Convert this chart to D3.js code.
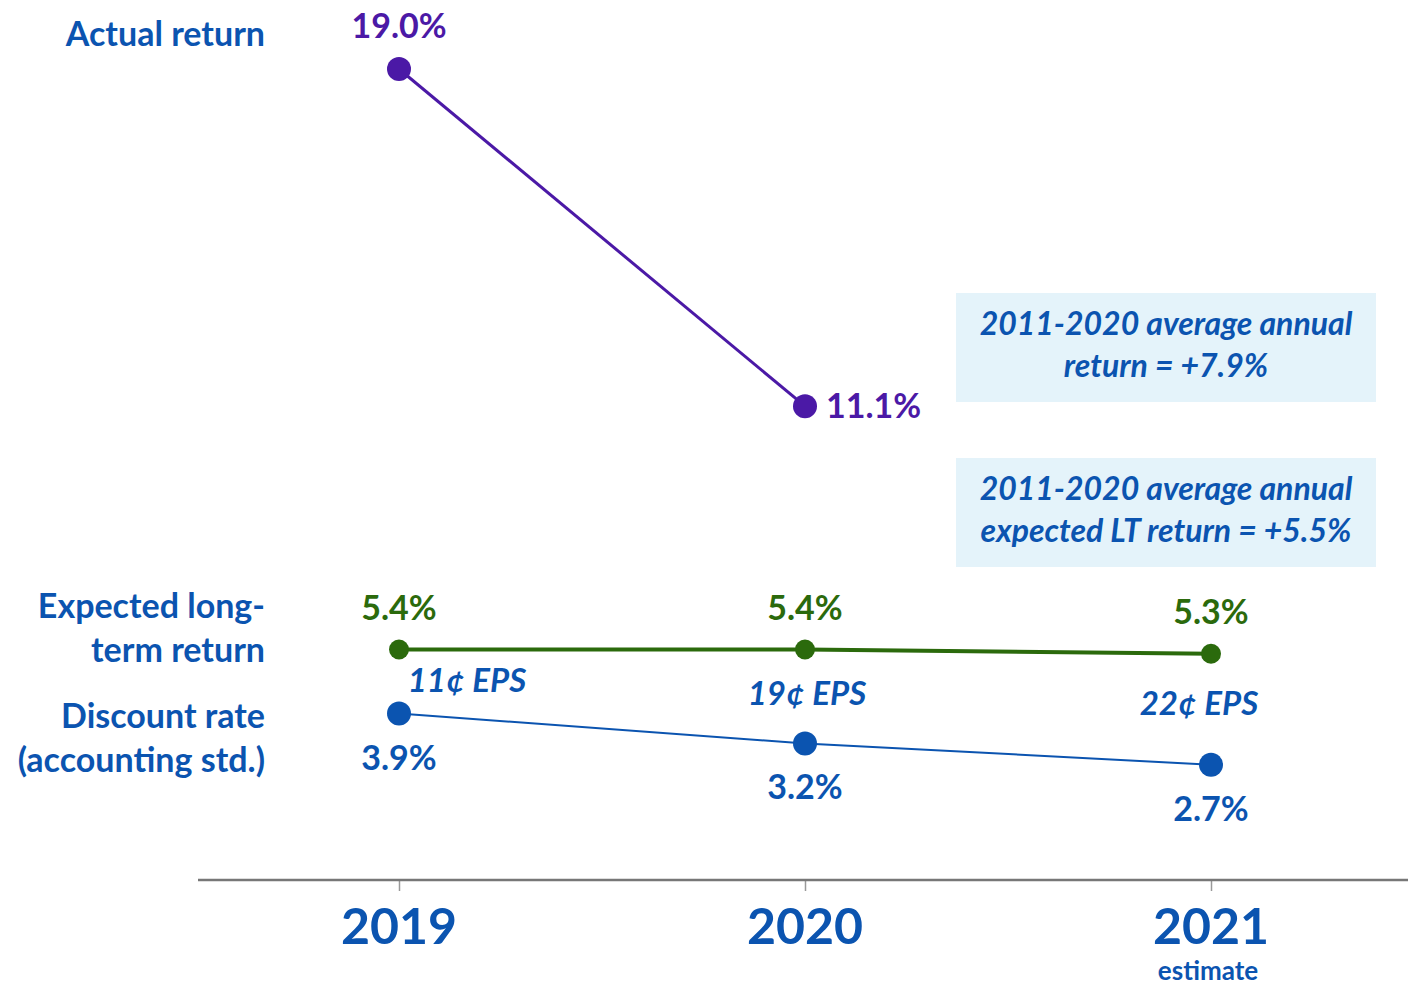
<!DOCTYPE html>
<html lang="en">
<head>
<meta charset="utf-8">
<title>Returns</title>
<script src="https://d3js.org/d3.v7.min.js"></script>
<style>
  body { margin: 0; background: #fff; }
  text { font-family: Lato, "Open Sans", sans-serif; font-weight: 700; }
  .ital { font-style: italic; }
</style>
</head>
<body>
<script>
var years = ['2019', '2020', '2021'];
var actualReturn = [19.0, 11.1];
var expectedReturn = [5.4, 5.4, 5.3];
var discountRate = [3.9, 3.2, 2.7];
var epsLabels = ['11¢ EPS', '19¢ EPS', '22¢ EPS'];
var boxTexts = [
  ['2011-2020 average annual', 'return = +7.9%'],
  ['2011-2020 average annual', 'expected LT return = +5.5%']
];

var W = 1408, H = 986;
var purple = '#4b19a6', green = '#2b6a0c', blue = '#0b54b0';

var svg = d3.select('body').append('svg')
    .attr('width', W)
    .attr('height', H);

var x = d3.scalePoint().domain(years).range([399, 1211]);
var y = d3.scaleLinear().domain([0, 19]).range([880, 69]);

// axis
var xAxis = d3.axisBottom(x).tickSize(11).tickFormat('');
var ax = svg.append('g')
    .attr('transform', 'translate(0,880)')
    .call(xAxis);
ax.select('.domain').remove();
ax.selectAll('.tick line').attr('stroke', '#999').attr('stroke-width', 1.5);
svg.append('line')
    .attr('x1', 198).attr('x2', W)
    .attr('y1', 880).attr('y2', 880)
    .attr('stroke', '#777').attr('stroke-width', 2.5);

svg.selectAll('.year')
    .data(years)
  .enter().append('text')
    .attr('class', 'year')
    .attr('x', function(d){ return x(d); })
    .attr('y', 944)
    .attr('text-anchor', 'middle')
    .attr('font-size', 50)
    .attr('fill', blue)
    .text(function(d){ return d; });
svg.append('text')
    .attr('x', x('2021') - 3)
    .attr('y', 980)
    .attr('text-anchor', 'middle')
    .attr('font-size', 26)
    .attr('fill', blue)
    .text('estimate');

// series
function drawSeries(vals, color, lw, r) {
  var pts = vals.map(function(v, i){ return [x(years[i]), y(v)]; });
  svg.append('path')
      .attr('d', d3.line()(pts))
      .attr('fill', 'none')
      .attr('stroke', color)
      .attr('stroke-width', lw);
  svg.selectAll(null)
      .data(pts)
    .enter().append('circle')
      .attr('cx', function(d){ return d[0]; })
      .attr('cy', function(d){ return d[1]; })
      .attr('r', r)
      .attr('fill', color);
}
drawSeries(actualReturn, purple, 3, 12);
drawSeries(expectedReturn, green, 4, 10);
drawSeries(discountRate, blue, 2, 12);

function fmt(v){ return v.toFixed(1) + '%'; }

// value labels
svg.append('text')
    .attr('x', x('2019')).attr('y', y(actualReturn[0]) - 31)
    .attr('text-anchor', 'middle').attr('font-size', 34).attr('fill', purple)
    .text(fmt(actualReturn[0]));
svg.append('text')
    .attr('x', x('2020') + 21).attr('y', y(actualReturn[1]) + 12)
    .attr('text-anchor', 'start').attr('font-size', 34).attr('fill', purple)
    .text(fmt(actualReturn[1]));

svg.selectAll('.exp')
    .data(expectedReturn)
  .enter().append('text')
    .attr('class', 'exp')
    .attr('x', function(d, i){ return x(years[i]); })
    .attr('y', function(d){ return y(d) - 30; })
    .attr('text-anchor', 'middle').attr('font-size', 34).attr('fill', green)
    .text(fmt);

svg.selectAll('.disc')
    .data(discountRate)
  .enter().append('text')
    .attr('class', 'disc')
    .attr('x', function(d, i){ return x(years[i]); })
    .attr('y', function(d){ return y(d) + 56; })
    .attr('text-anchor', 'middle').attr('font-size', 34).attr('fill', blue)
    .text(fmt);

var epsDx = [68, 2, -12];
var epsDy = [42, 55, 61];
svg.selectAll('.eps')
    .data(epsLabels)
  .enter().append('text')
    .attr('class', 'eps ital')
    .attr('x', function(d, i){ return x(years[i]) + epsDx[i]; })
    .attr('y', function(d, i){ return y(expectedReturn[i]) + epsDy[i]; })
    .attr('text-anchor', 'middle').attr('font-size', 33).attr('fill', blue)
    .text(function(d){ return d; });

// left labels
var leftLabels = [
  {t: 'Actual return', y: 46},
  {t: 'Expected long-', y: 618},
  {t: 'term return', y: 662},
  {t: 'Discount rate', y: 728},
  {t: '(accounting std.)', y: 772}
];
svg.selectAll('.lab')
    .data(leftLabels)
  .enter().append('text')
    .attr('class', 'lab')
    .attr('x', 265).attr('y', function(d){ return d.y; })
    .attr('text-anchor', 'end').attr('font-size', 34).attr('fill', blue)
    .text(function(d){ return d.t; });

// boxes
var boxY = [293, 458];
boxTexts.forEach(function(lines, i) {
  var g = svg.append('g').attr('transform', 'translate(956,' + boxY[i] + ')');
  g.append('rect')
      .attr('width', 420).attr('height', 109)
      .attr('fill', '#e4f3fa');
  g.selectAll('text')
      .data(lines)
    .enter().append('text')
      .attr('class', 'ital')
      .attr('x', 210)
      .attr('y', function(d, j){ return 42 + j * 42; })
      .attr('text-anchor', 'middle').attr('font-size', 32).attr('fill', blue)
      .text(function(d){ return d; });
});
</script>
</body>
</html>
